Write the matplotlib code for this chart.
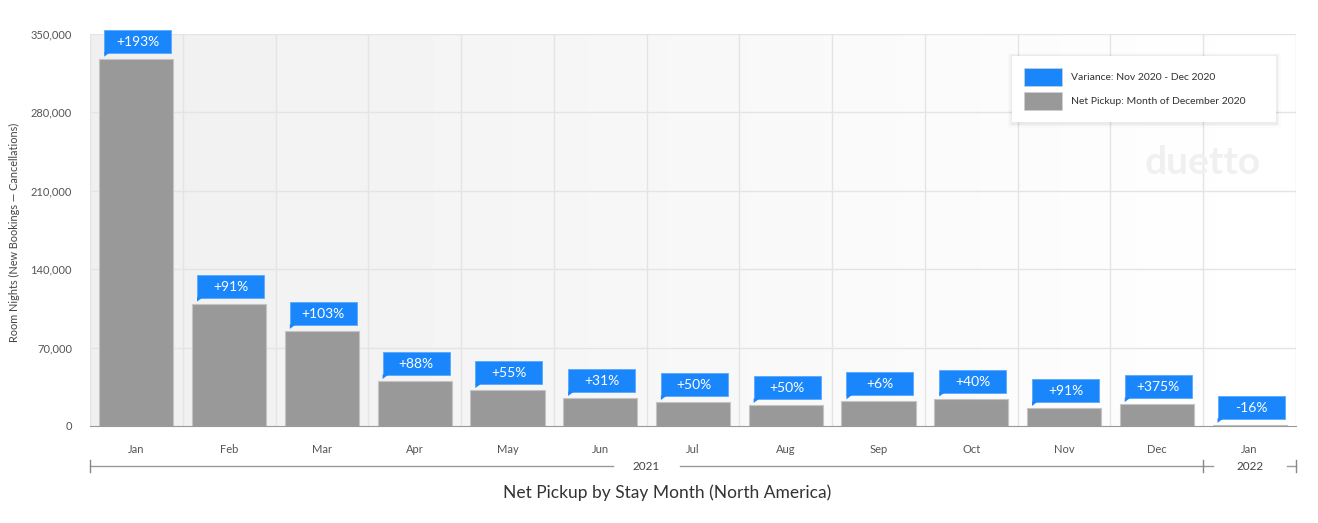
import numpy as np
import matplotlib
matplotlib.use("Agg")
import matplotlib.pyplot as plt
from matplotlib.patches import Rectangle, Polygon
from matplotlib.ticker import FuncFormatter

plt.rcParams['font.family'] = ['Lato', 'DejaVu Sans']

# data
months = ['Jan', 'Feb', 'Mar', 'Apr', 'May', 'Jun', 'Jul', 'Aug', 'Sep', 'Oct', 'Nov', 'Dec', 'Jan']
net_pickup = [328000, 109300, 84900, 40200, 32100, 25000, 21400, 18800, 22100, 24500, 16100, 19600, 1000]
variance = ['+193%', '+91%', '+103%', '+88%', '+55%', '+31%', '+50%', '+50%', '+6%', '+40%', '+91%', '+375%', '-16%']
years = ['2021', '2022']
year_spans = [(0, 11), (12, 12)]
yticks = [0, 70000, 140000, 210000, 280000, 350000]

W, H = 1318, 523
fig = plt.figure(figsize=(W / 100, H / 100), dpi=100)
ax_l, ax_r, ax_t, ax_b = 90, 1296, 34, 426
ax = fig.add_axes([ax_l / W, 1 - ax_b / H, (ax_r - ax_l) / W, (ax_b - ax_t) / H])

n = len(months)
x = np.arange(n)
ax.set_xlim(-0.5, n - 0.5)
ax.set_ylim(0, 350000)

# pixel sizes in data units
px_x = n / (ax_r - ax_l)
px_y = 350000 / (ax_b - ax_t)

# gradient background
grad = np.linspace(0.94, 1.0, 256).reshape(1, -1)
ax.imshow(grad, extent=[-0.5, n - 0.5, 0, 350000], aspect='auto', cmap='gray',
          vmin=0, vmax=1, zorder=0, interpolation='bilinear')

# grid
for yt in yticks[1:]:
    ax.axhline(yt, color='#e4e4e4', lw=1, zorder=1)
for b in np.arange(-0.5, n, 1.0):
    ax.axvline(b, color='#e4e4e4', lw=1, zorder=1)

bar_w = 0.8
ax.bar(x, net_pickup, width=bar_w, color='#999999', edgecolor='#c4c4c4', linewidth=0.8, zorder=2)

# variance callouts
box_w = 67 * px_x
box_h = 23 * px_y
for xi, v, lab in zip(x, net_pickup, variance):
    left = xi - bar_w / 2 + 5 * px_x
    bottom = v + 6 * px_y
    ax.add_patch(Rectangle((left, bottom), box_w, box_h, facecolor='#1a86fc',
                           edgecolor='#5aa8ff', lw=0.6, zorder=3, clip_on=False))
    ax.add_patch(Polygon([(left, bottom + 0.5 * px_y), (left + 6 * px_x, bottom + 0.5 * px_y),
                          (left, bottom - 4 * px_y)], closed=True,
                         facecolor='#1a86fc', edgecolor='none', zorder=3, clip_on=False))
    ax.text(left + box_w / 2, bottom + box_h / 2 - 0.5 * px_y, lab, color='white', fontsize=10,
            ha='center', va='center', zorder=4, clip_on=False)

# axes styling
for s in ['top', 'right', 'left']:
    ax.spines[s].set_visible(False)
ax.spines['bottom'].set_color('#999999')
ax.spines['bottom'].set_zorder(5)
ax.set_yticks(yticks)
ax.yaxis.set_major_formatter(FuncFormatter(lambda v, p: f'{int(v):,}'))
ax.set_xticks(x)
ax.set_xticklabels(months)
ax.tick_params(axis='both', length=0, colors='#555555', labelsize=8)
ax.tick_params(axis='x', pad=13)
ax.tick_params(axis='y', pad=13)

fig.text(14 / W, 1 - 232 / H, 'Room Nights (New Bookings \u2014 Cancellations)', rotation=90,
         ha='center', va='center', fontsize=7.8, color='#444444')

# year grouping row
tr = ax.get_xaxis_transform()
y_line = -(466 - ax_b) / (ax_b - ax_t)
y_t0 = -(460 - ax_b) / (ax_b - ax_t)
y_t1 = -(472 - ax_b) / (ax_b - ax_t)
gaps = [0.36, 0.4]
for yr, (a, b), g in zip(years, year_spans, gaps):
    x0, x1 = a - 0.5, b + 0.5
    c = (x0 + x1) / 2
    ax.plot([x0, c - g], [y_line, y_line], transform=tr, color='#999999', lw=1, clip_on=False)
    ax.plot([c + g, x1], [y_line, y_line], transform=tr, color='#999999', lw=1, clip_on=False)
    ax.text(c, y_line, yr, transform=tr, ha='center', va='center', fontsize=8.5, color='#444444')
for xt in [-0.5, 11.5, 12.5]:
    ax.plot([xt, xt], [y_t0, y_t1], transform=tr, color='#888888', lw=1, clip_on=False)

fig.text(667 / W, 1 - 493 / H, 'Net Pickup by Stay Month (North America)', ha='center', va='center',
         fontsize=12.5, color='#333333')

# watermark
fig.text(1203 / W, 1 - 162 / H, 'duetto', ha='center', va='center', fontsize=28,
         fontweight='bold', color='#f0f0f0')

# legend
lx0, ly0, lx1, ly1 = 1012, 56, 1276, 122
for k, a in enumerate([0.035, 0.025, 0.012]):
    off = (k + 1) * 1.5
    fig.patches.append(Rectangle(((lx0 - off) / W, 1 - (ly1 + off + 1) / H),
                                 (lx1 - lx0 + 2 * off) / W, (ly1 - ly0 + 2 * off) / H,
                                 transform=fig.transFigure, facecolor='black', alpha=a,
                                 edgecolor='none', zorder=5))
fig.patches.append(Rectangle((lx0 / W, 1 - ly1 / H), (lx1 - lx0) / W, (ly1 - ly0) / H,
                             transform=fig.transFigure, facecolor='white', edgecolor='none', zorder=6))
leg_items = [('Variance: Nov 2020 - Dec 2020', '#1a86fc'), ('Net Pickup: Month of December 2020', '#999999')]
for i, (lab, col) in enumerate(leg_items):
    top = 68 + i * 24
    fig.patches.append(Rectangle((1024 / W, 1 - (top + 18) / H), 38 / W, 18 / H,
                                 transform=fig.transFigure, facecolor=col, edgecolor='#d0d0d0',
                                 lw=0.5, zorder=7))
    fig.text(1071 / W, 1 - (top + 9) / H, lab, ha='left', va='center', fontsize=7.5,
             color='#333333', zorder=8)

fig.savefig('out.png', dpi=100)
